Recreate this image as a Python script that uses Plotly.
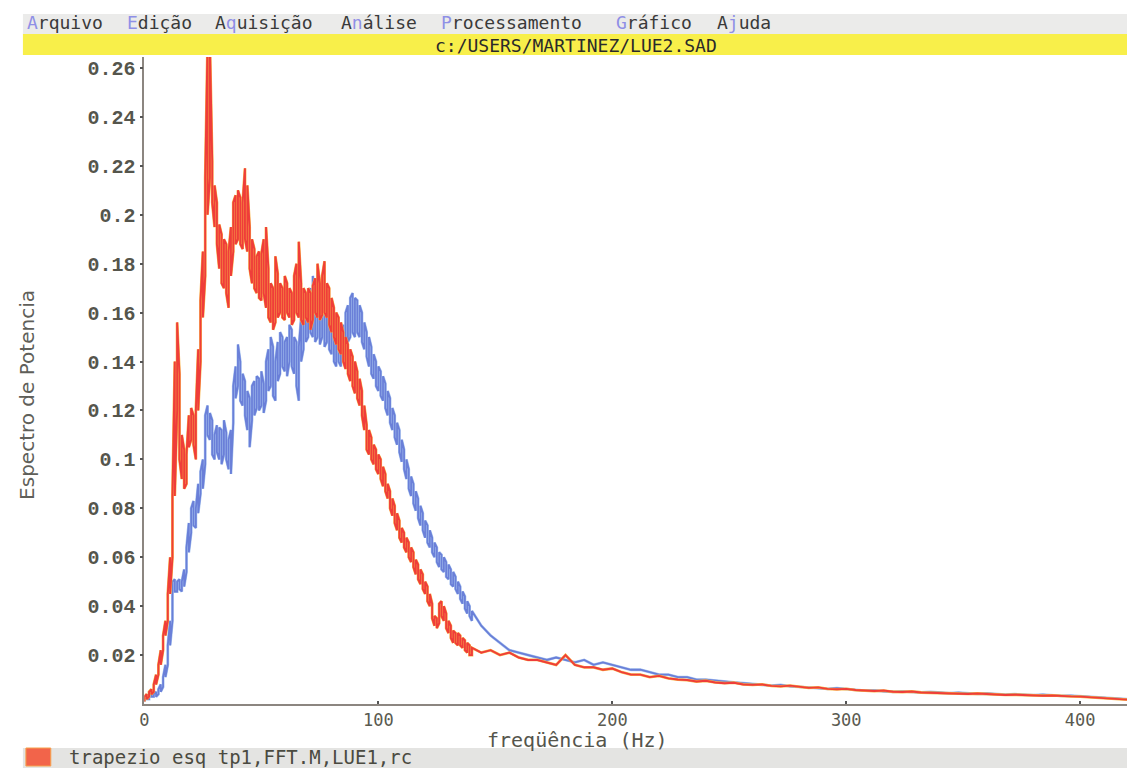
import plotly.graph_objects as go

# ---------------- data ----------------
head_freq = list(range(0, 141))  # Hz, 1 Hz bins

red_lo = [0.001,0.002,0.003,0.004,0.005,0.008,0.012,0.016,0.022,0.028,
          0.034,0.045,0.060,0.085,0.120,0.100,0.092,0.088,0.090,0.105,
          0.108,0.106,0.100,0.120,0.140,0.158,0.175,0.200,0.215,0.205,
          0.195,0.188,0.178,0.172,0.170,0.168,0.162,0.175,0.185,0.188,
          0.190,0.188,0.186,0.190,0.185,0.178,0.172,0.170,0.168,0.166,
          0.165,0.168,0.162,0.158,0.156,0.153,0.156,0.158,0.160,0.158,
          0.157,0.160,0.158,0.155,0.157,0.160,0.158,0.157,0.155,0.158,
          0.156,0.153,0.157,0.160,0.158,0.157,0.159,0.160,0.158,0.155,
          0.152,0.150,0.147,0.145,0.143,0.140,0.137,0.135,0.132,0.130,
          0.127,0.125,0.122,0.118,0.112,0.104,0.102,0.100,0.098,0.096,
          0.094,0.092,0.089,0.087,0.084,0.080,0.077,0.074,0.071,0.068,
          0.066,0.064,0.062,0.060,0.058,0.056,0.053,0.051,0.049,0.047,
          0.045,0.042,0.040,0.035,0.032,0.031,0.033,0.036,0.034,0.031,
          0.029,0.027,0.025,0.025,0.024,0.024,0.023,0.022,0.021,0.020,0.020]
red_hi = [0.003,0.004,0.005,0.006,0.008,0.012,0.016,0.022,0.028,0.034,
          0.045,0.060,0.085,0.140,0.156,0.135,0.110,0.104,0.102,0.118,
          0.121,0.118,0.120,0.145,0.165,0.185,0.215,0.270,0.270,0.222,
          0.212,0.205,0.196,0.192,0.190,0.188,0.185,0.195,0.205,0.208,
          0.210,0.207,0.205,0.219,0.212,0.195,0.190,0.186,0.183,0.185,
          0.184,0.190,0.195,0.178,0.172,0.170,0.183,0.176,0.172,0.170,
          0.175,0.172,0.170,0.168,0.175,0.180,0.189,0.172,0.170,0.168,
          0.170,0.168,0.171,0.174,0.180,0.172,0.175,0.181,0.172,0.170,
          0.166,0.162,0.160,0.158,0.156,0.152,0.150,0.147,0.145,0.142,
          0.140,0.136,0.133,0.128,0.122,0.114,0.112,0.109,0.106,0.104,
          0.102,0.100,0.097,0.094,0.090,0.087,0.084,0.081,0.078,0.075,
          0.072,0.070,0.068,0.066,0.064,0.062,0.059,0.057,0.055,0.053,
          0.050,0.048,0.045,0.041,0.036,0.035,0.041,0.042,0.040,0.037,
          0.034,0.032,0.030,0.029,0.029,0.028,0.027,0.026,0.025,0.024,0.023]

blue_lo = [0.001,0.002,0.002,0.003,0.003,0.003,0.004,0.005,0.007,0.011,
           0.016,0.024,0.034,0.046,0.046,0.047,0.046,0.048,0.054,0.062,
           0.070,0.073,0.072,0.078,0.086,0.088,0.098,0.110,0.108,0.102,
           0.100,0.103,0.100,0.098,0.102,0.100,0.096,0.094,0.115,0.125,
           0.130,0.124,0.122,0.118,0.112,0.105,0.116,0.118,0.121,0.120,
           0.122,0.119,0.124,0.128,0.130,0.126,0.124,0.132,0.135,0.138,
           0.136,0.134,0.140,0.138,0.135,0.130,0.124,0.140,0.145,0.148,
           0.150,0.152,0.150,0.148,0.150,0.147,0.150,0.146,0.148,0.145,
           0.143,0.140,0.138,0.140,0.138,0.140,0.144,0.148,0.150,0.152,
           0.150,0.152,0.150,0.148,0.145,0.142,0.138,0.135,0.133,0.130,
           0.128,0.126,0.124,0.121,0.118,0.115,0.112,0.109,0.106,0.103,
           0.099,0.096,0.092,0.088,0.085,0.082,0.079,0.076,0.073,0.071,
           0.068,0.066,0.064,0.062,0.060,0.058,0.056,0.055,0.054,0.052,
           0.051,0.049,0.048,0.047,0.045,0.043,0.041,0.039,0.037,0.036,0.034]
blue_hi = [0.003,0.003,0.004,0.004,0.004,0.005,0.006,0.008,0.011,0.016,
           0.024,0.034,0.050,0.051,0.050,0.051,0.050,0.055,0.064,0.074,
           0.080,0.083,0.080,0.090,0.095,0.100,0.118,0.122,0.119,0.116,
           0.110,0.114,0.113,0.112,0.116,0.111,0.108,0.112,0.130,0.138,
           0.147,0.140,0.135,0.132,0.128,0.125,0.130,0.132,0.134,0.133,
           0.136,0.131,0.140,0.145,0.150,0.146,0.140,0.148,0.152,0.150,
           0.148,0.150,0.155,0.153,0.150,0.148,0.146,0.158,0.160,0.163,
           0.168,0.170,0.175,0.165,0.163,0.165,0.168,0.165,0.163,0.160,
           0.158,0.156,0.155,0.157,0.152,0.155,0.160,0.163,0.166,0.168,
           0.166,0.165,0.163,0.160,0.156,0.152,0.150,0.146,0.143,0.140,
           0.138,0.136,0.134,0.131,0.128,0.125,0.121,0.118,0.115,0.112,
           0.108,0.104,0.100,0.096,0.093,0.090,0.087,0.084,0.081,0.078,
           0.075,0.073,0.071,0.068,0.066,0.064,0.062,0.061,0.060,0.058,
           0.057,0.055,0.054,0.052,0.050,0.048,0.046,0.044,0.042,0.040,0.038]

tail_freq = list(range(144, 421, 4))  # Hz
red_tail = [0.021,0.022,0.020,0.021,0.019,0.018,0.018,0.017,0.016,0.020,
            0.016,0.015,0.015,0.014,0.0145,0.013,0.012,0.012,0.011,0.0115,
            0.0105,0.010,0.0098,0.0092,0.0095,0.0088,0.0085,0.0087,0.008,0.0078,
            0.008,0.0074,0.0072,0.0075,0.0069,0.0066,0.0068,0.0062,0.006,0.0062,
            0.0057,0.0055,0.0053,0.0055,0.005,0.0049,0.0051,0.0047,0.0046,0.0044,
            0.0045,0.0042,0.0041,0.0043,0.004,0.0039,0.0037,0.0038,0.0036,0.0035,
            0.0034,0.0035,0.0032,0.0031,0.003,0.0028,0.0025,0.0022,0.002,0.0018]
blue_tail = [0.032,0.028,0.025,0.022,0.021,0.020,0.019,0.018,0.019,0.018,
             0.017,0.018,0.016,0.017,0.016,0.015,0.014,0.014,0.013,0.012,
             0.012,0.011,0.011,0.010,0.010,0.0095,0.009,0.0088,0.0085,0.0082,
             0.008,0.0075,0.0078,0.0072,0.007,0.0068,0.0065,0.0062,0.0065,0.006,
             0.0058,0.0055,0.0056,0.0052,0.005,0.0052,0.0048,0.0047,0.0049,0.0045,
             0.0044,0.0046,0.0042,0.0041,0.0043,0.004,0.0038,0.004,0.0037,0.0036,
             0.0038,0.0035,0.0033,0.0034,0.0032,0.0031,0.0028,0.0026,0.0023,0.002]

y_tick_vals = [0.02,0.04,0.06,0.08,0.1,0.12,0.14,0.16,0.18,0.2,0.22,0.24,0.26]
y_tick_text = ["0.02","0.04","0.06","0.08","0.1","0.12","0.14","0.16","0.18","0.2","0.22","0.24","0.26"]
x_tick_vals = [0, 100, 200, 300, 400]
x_tick_text = ["0", "100", "200", "300", "400"]

# menu words: (text, index of accelerator letter)
menu_words = [("Arquivo", 0), ("Edição", 0), ("Aquisição", 1), ("Análise", 1),
              ("Processamento", 0), ("Gráfico", 0), ("Ajuda", 1)]
file_title = "c:/USERS/MARTINEZ/LUE2.SAD"
legend_label = "trapezio esq tp1,FFT.M,LUE1,rc"
x_title = "freqüência (Hz)"
y_title = "Espectro de Potencia"

# ---------------- geometry ----------------
W, H = 1127, 768
def px(x):
    return x / W
def py(y):
    return 1 - y / H


def zigzag(freqs, lo, hi, tf, tv):
    xs, ys = [], []
    for i, f in enumerate(freqs):
        xs += [f, f]
        ys += ([lo[i], hi[i]] if i % 2 == 0 else [hi[i], lo[i]])
    xs += tf
    ys += tv
    return xs, ys

bx, by = zigzag(head_freq, blue_lo, blue_hi, tail_freq, blue_tail)
rx, ry = zigzag(head_freq, red_lo, red_hi, tail_freq, red_tail)

fig = go.Figure()
fig.add_trace(go.Scatter(x=bx, y=by, mode="lines", line=dict(color="#aac6f0", width=2.8),
                         hoverinfo="skip", showlegend=False))
fig.add_trace(go.Scatter(x=bx, y=by, mode="lines", line=dict(color="#6a7fd8", width=1.8),
                         showlegend=False))
fig.add_trace(go.Scatter(x=rx, y=ry, mode="lines", line=dict(color="#f9b447", width=2.8),
                         hoverinfo="skip", showlegend=False))
fig.add_trace(go.Scatter(x=rx, y=ry, mode="lines", line=dict(color="#ef3d3a", width=1.9),
                         showlegend=False))

axis_col = "#8c8680"
fig.update_xaxes(domain=[px(140), 1], range=[0, 420], showgrid=False, zeroline=False,
                 showline=True, linecolor=axis_col, linewidth=1.5,
                 ticks="inside", ticklen=3, tickcolor="#555", tickwidth=1.5,
                 tickvals=x_tick_vals, ticktext=x_tick_text,
                 tickfont=dict(family="DejaVu Sans Mono", size=17, color="#5a5a50"))
fig.update_yaxes(domain=[py(704), py(57)], range=[0, 0.2645], showgrid=False, zeroline=False,
                 showline=True, linecolor=axis_col, linewidth=1.5,
                 ticks="outside", ticklen=3, tickcolor="#555", tickwidth=1.5,
                 tickvals=y_tick_vals, ticktext=y_tick_text,
                 tickfont=dict(family="Liberation Mono", size=20, color="#55554c", weight="bold"))

shapes = [
    dict(type="rect", xref="paper", yref="paper", x0=px(18), x1=1, y0=py(34), y1=py(14),
         fillcolor="#ebebea", line=dict(width=0), layer="below"),
    dict(type="rect", xref="paper", yref="paper", x0=px(18), x1=1, y0=py(55), y1=py(34),
         fillcolor="#f8ef4a", line=dict(width=0), layer="below"),
    dict(type="rect", xref="paper", yref="paper", x0=px(18), x1=1, y0=0, y1=py(748),
         fillcolor="#e4e4e2", line=dict(width=0), layer="below"),
    dict(type="rect", xref="paper", yref="paper", x0=px(21), x1=px(46), y0=py(766), y1=py(748),
         fillcolor="#f2644a", line=dict(width=1, color="#f7a04a"), layer="below"),
]

annotations = []
# menu words placed on the reference's character grid (12.6 px per character)
col = 0
for word, k in menu_words:
    txt = word[:k] + "<span style='color:#8f8fe6'>" + word[k] + "</span>" + word[k + 1:]
    annotations.append(dict(x=px(20 + 12.6 * col), y=py(23), xref="paper", yref="paper",
                            text=txt, showarrow=False, xanchor="left", yanchor="middle",
                            font=dict(family="DejaVu Sans Mono", size=18, color="#3a3a3a")))
    col += len(word) + 1

annotations += [
    dict(x=px(574), y=py(45), xref="paper", yref="paper", text=file_title, showarrow=False,
         xanchor="center", yanchor="middle",
         font=dict(family="DejaVu Sans Mono", size=18, color="#2a2a2a")),
    dict(x=px(575), y=py(740), xref="paper", yref="paper", text=x_title, showarrow=False,
         xanchor="center", yanchor="middle",
         font=dict(family="DejaVu Sans Mono", size=20, color="#55554c")),
    dict(x=px(22), y=py(395), xref="paper", yref="paper", text=y_title, showarrow=False,
         textangle=-90, xanchor="center", yanchor="middle",
         font=dict(family="DejaVu Sans", size=20, color="#5f5f5a")),
    dict(x=px(62), y=py(757), xref="paper", yref="paper", text=legend_label, showarrow=False,
         xanchor="left", yanchor="middle",
         font=dict(family="DejaVu Sans Mono", size=19, color="#4a4a40")),
]

fig.update_layout(width=W, height=H, margin=dict(l=0, r=0, t=0, b=0),
                  paper_bgcolor="white", plot_bgcolor="white",
                  shapes=shapes, annotations=annotations, showlegend=False)

fig.write_html("out.html")
